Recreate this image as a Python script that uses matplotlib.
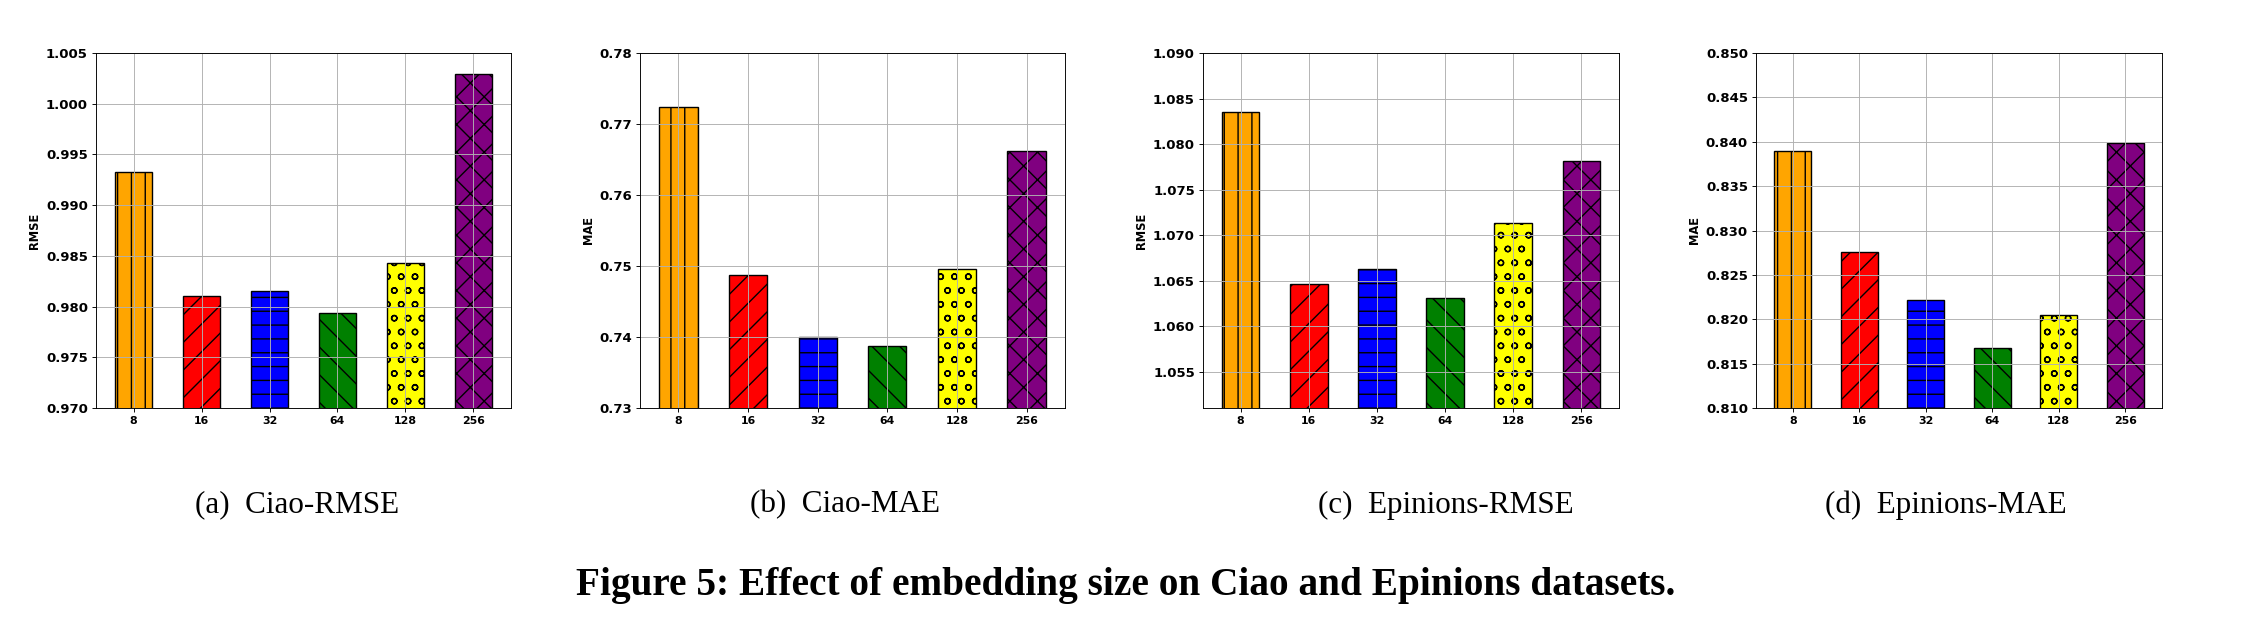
import matplotlib
matplotlib.use('Agg')
import matplotlib.pyplot as plt
import numpy as np
from matplotlib.ticker import FormatStrFormatter

DPI = 83
W, H = 2252, 634

# ---- data ----
sizes = ['8', '16', '32', '64', '128', '256']
ciao_rmse = [0.9933, 0.9810, 0.9815, 0.9794, 0.9843, 1.0029]
ciao_mae = [0.7724, 0.7487, 0.7400, 0.7387, 0.7496, 0.7662]
epinions_rmse = [1.0835, 1.0646, 1.0663, 1.0631, 1.0713, 1.0781]
epinions_mae = [0.8390, 0.8276, 0.8222, 0.8168, 0.8205, 0.8399]

captions = ['(a)  Ciao-RMSE', '(b)  Ciao-MAE', '(c)  Epinions-RMSE', '(d)  Epinions-MAE']
ylabels = ['RMSE', 'MAE', 'RMSE', 'MAE']
title = 'Figure 5: Effect of embedding size on Ciao and Epinions datasets.'

colors = ['orange', 'red', 'blue', 'green', 'yellow', 'purple']
hatches = ['|', '/', '-', '\\', 'o', 'x']

plt.rcParams['hatch.linewidth'] = 1.2

fig = plt.figure(figsize=(W / DPI, H / DPI), dpi=DPI)

# axes boxes in pixels: left, right; top/bottom shared
boxes = [(96, 511), (640, 1065), (1203, 1619), (1756, 2162)]
top_px, bot_px = 53, 408
ylims = [(0.970, 1.005), (0.73, 0.78), (1.051, 1.090), (0.810, 0.850)]
yticks = [np.arange(0.970, 1.0051, 0.005), np.arange(0.73, 0.7801, 0.01),
          np.arange(1.055, 1.0901, 0.005), np.arange(0.810, 0.8501, 0.005)]
fmts = ['%.3f', '%.2f', '%.3f', '%.3f']
cap_x = [297, 845, 1446, 1946]
series = [ciao_rmse, ciao_mae, epinions_rmse, epinions_mae]

x = np.arange(len(sizes))
for i, vals in enumerate(series):
    l, r = boxes[i]
    ax = fig.add_axes([l / W, 1 - bot_px / H, (r - l) / W, (bot_px - top_px) / H])
    ax.bar(x, vals, width=0.55, color=colors, hatch=hatches,
           edgecolor='black', linewidth=1.2)
    ax.set_xticks(x)
    ax.set_xticklabels(sizes, fontsize=9.5, fontweight='bold')
    ax.set_ylim(*ylims[i])
    ax.set_yticks(yticks[i])
    ax.yaxis.set_major_formatter(FormatStrFormatter(fmts[i]))
    for lab in ax.get_yticklabels():
        lab.set_fontsize(11.5)
        lab.set_fontweight('bold')
    ax.set_ylabel(ylabels[i], fontsize=10, fontweight='bold')
    ax.grid(True, color='#b0b0b0', linewidth=0.8)
    fig.text(cap_x[i] / W, 1 - 505 / H, captions[i], ha='center', va='center',
             fontsize=27, family='Liberation Serif')

fig.text(1126 / W, 1 - 586 / H, title, ha='center', va='center',
         fontsize=34, fontweight='bold', family='Liberation Serif')

fig.savefig('out.png', dpi=DPI)
